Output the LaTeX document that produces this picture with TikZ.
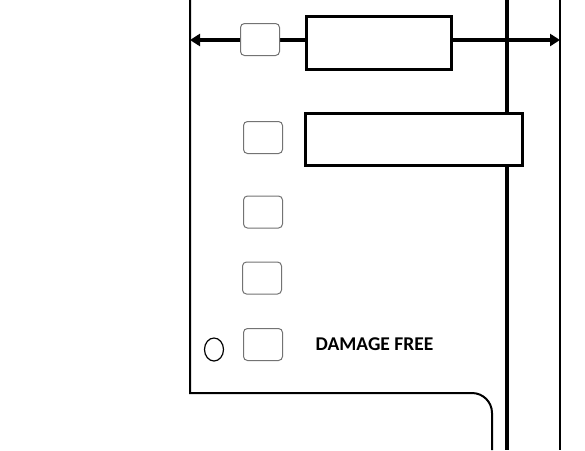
\documentclass[tikz,border=0pt]{standalone}
\usepackage{fontspec}
\setmainfont{Carlito}
\usetikzlibrary{arrows.meta}
\begin{document}
\begin{tikzpicture}[x=1pt,y=-1pt,
  smallbox/.style={draw=black!55,line width=1pt,rounded corners=4pt,fill=white,minimum width=39pt,minimum height=32pt,inner sep=0pt},
  bigbox/.style={draw=black,line width=3pt,fill=white,inner sep=0pt},
  thin/.style={line width=2pt},
  lbl/.style={font=\bfseries\fontsize{19.5}{22}\selectfont,inner sep=0pt}]
\useasboundingbox (0,0) rectangle (585,450);
% outline
\coordinate (topL) at (190,0);
\coordinate (botL) at (190,393);
\coordinate (cornerEnd) at (492,450);
\draw[thin] (topL) -- (botL) [rounded corners=20pt] -- (492,393) -- (cornerEnd);
\coordinate (railTop) at (507,0);
\coordinate (railBot) at (507,450);
\draw[line width=4pt] (railTop) -- (railBot);
\coordinate (rTop) at (560,0);
\coordinate (rBot) at (560,450);
\draw[thin] (rTop) -- (rBot);
% arrow
\coordinate (aL) at (190,40);
\coordinate (aR) at (560,40);
\draw[line width=3.6pt,{Triangle[length=10pt,width=12pt]}-{Triangle[length=10pt,width=12pt]}] (aL) -- (aR);
% boxes
\node[smallbox] (s1) at (260,39.5) {};
\node[bigbox,minimum width=145pt,minimum height=53pt] (b1) at (378.5,42.5) {};
\node[bigbox,minimum width=217pt,minimum height=52pt] (b2) at (413.5,139) {};
\node[smallbox] (s2) at (263,137.5) {};
\node[smallbox] (s3) at (263,212) {};
\node[smallbox] (s4) at (262,278) {};
\node[smallbox] (s5) at (263,344.5) {};
\draw[line width=1.2pt] (214,349.5) ellipse (9.5pt and 11.5pt);
\node[lbl] (t) at (374.5,344) {DAMAGE FREE};
\end{tikzpicture}
\end{document}
